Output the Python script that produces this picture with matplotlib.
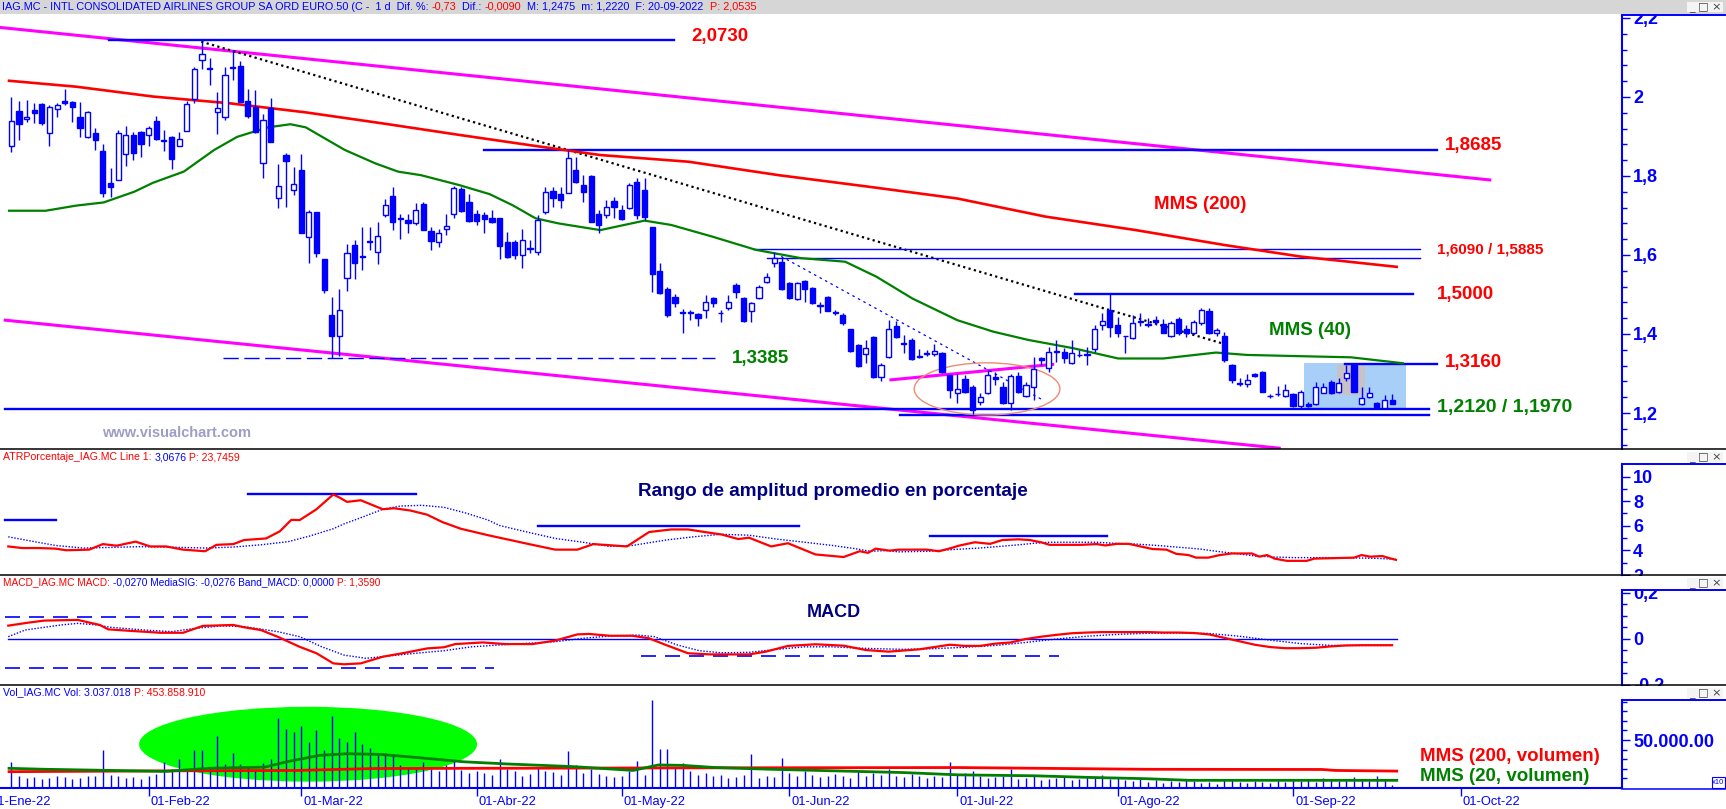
"""
plot.py
=======
Redraws a Visual Chart screen of IAG.MC (daily, Jan-Sep 2022): candlesticks
with moving averages, channel and trend lines, plus ATR %, MACD and volume
panels underneath.

Usage:
    python plot.py
"""

import numpy as np
import matplotlib
matplotlib.use("Agg")
import matplotlib.pyplot as plt
from matplotlib.patches import Ellipse, Rectangle

# ---------------------------------------------------------------------------
# Canvas and colours
# ---------------------------------------------------------------------------
W, H, DPI = 1726, 809, 100
AXIS_X = 1622                      # pixel column of the right price scale
XLIM = (1.515, 214.13)             # sessions, 0 = 03-Jan-2022
BLUE, RED, GREEN, NAVY = "#0000ff", "#ff0000", "#008000", "#000080"
MAGENTA = "#ff00ff"

plt.rcParams["font.family"] = ["Liberation Sans", "DejaVu Sans"]

# ---------------------------------------------------------------------------
# Data (one value per session, first session = index 3, 06-Jan-2022)
# ---------------------------------------------------------------------------
FIRST_SESSION = 3

opens = [
    1.877, 1.964, 1.943, 1.968, 1.981, 1.910, 1.969, 1.990, 1.987, 1.949,
    1.898, 1.910, 1.862, 1.781, 1.790, 1.856, 1.903, 1.912, 1.903, 1.938,
    1.891, 1.899, 1.877, 1.913, 1.994, 2.093, 2.073, 1.961, 1.950, 2.073,
    2.078, 1.990, 1.975, 1.832, 1.973, 1.743, 1.853, 1.764, 1.815, 1.646,
    1.708, 1.591, 1.448, 1.395, 1.543, 1.625, 1.597, 1.632, 1.607, 1.701,
    1.750, 1.693, 1.688, 1.680, 1.729, 1.661, 1.634, 1.665, 1.705, 1.767,
    1.733, 1.704, 1.702, 1.694, 1.693, 1.634, 1.634, 1.600, 1.618, 1.607,
    1.708, 1.763, 1.754, 1.756, 1.815, 1.777, 1.800, 1.704, 1.701, 1.737,
    1.714, 1.718, 1.786, 1.765, 1.670, 1.560, 1.513, 1.494, 1.455, 1.452,
    1.451, 1.462, 1.490, 1.454, 1.465, 1.524, 1.490, 1.457, 1.490, 1.531,
    1.579, 1.583, 1.528, 1.488, 1.534, 1.516, 1.473, 1.494, 1.455, 1.448,
    1.413, 1.372, 1.349, 1.392, 1.292, 1.343, 1.419, 1.376, 1.385, 1.344,
    1.352, 1.349, 1.353, 1.295, 1.250, 1.285, 1.265, 1.229, 1.251, 1.290,
    1.265, 1.225, 1.294, 1.243, 1.265, 1.338, 1.313, 1.356, 1.355, 1.327,
    1.348, 1.347, 1.361, 1.423, 1.462, 1.423, 1.396, 1.389, 1.431, 1.426,
    1.435, 1.425, 1.395, 1.437, 1.412, 1.402, 1.427, 1.458, 1.402, 1.395,
    1.322, 1.275, 1.273, 1.299, 1.305, 1.243, 1.248, 1.244, 1.248, 1.218,
    1.224, 1.224, 1.251, 1.279, 1.254, 1.288, 1.322, 1.224, 1.241, 1.226,
    1.212, 1.232,
]
highs = [
    1.999, 1.990, 1.992, 1.984, 1.985, 1.979, 1.985, 2.019, 1.990, 1.988,
    1.964, 1.921, 1.882, 1.819, 1.916, 1.927, 1.912, 1.915, 1.926, 1.952,
    1.916, 1.900, 1.912, 1.990, 2.077, 2.140, 2.098, 2.013, 2.077, 2.120,
    2.091, 2.020, 2.017, 1.958, 1.997, 1.830, 1.857, 1.823, 1.855, 1.714,
    1.709, 1.591, 1.493, 1.513, 1.628, 1.638, 1.670, 1.670, 1.683, 1.741,
    1.773, 1.703, 1.703, 1.731, 1.733, 1.671, 1.667, 1.704, 1.775, 1.773,
    1.754, 1.715, 1.709, 1.715, 1.693, 1.659, 1.638, 1.665, 1.638, 1.701,
    1.773, 1.773, 1.773, 1.866, 1.849, 1.802, 1.802, 1.714, 1.739, 1.748,
    1.727, 1.781, 1.795, 1.794, 1.672, 1.579, 1.520, 1.500, 1.464, 1.461,
    1.452, 1.498, 1.494, 1.462, 1.498, 1.528, 1.494, 1.482, 1.524, 1.555,
    1.608, 1.596, 1.532, 1.532, 1.537, 1.520, 1.482, 1.496, 1.462, 1.452,
    1.413, 1.374, 1.385, 1.394, 1.326, 1.435, 1.434, 1.397, 1.389, 1.361,
    1.360, 1.375, 1.355, 1.296, 1.299, 1.296, 1.271, 1.250, 1.309, 1.305,
    1.279, 1.298, 1.305, 1.279, 1.343, 1.341, 1.368, 1.385, 1.364, 1.385,
    1.360, 1.368, 1.423, 1.452, 1.501, 1.444, 1.396, 1.448, 1.452, 1.440,
    1.445, 1.437, 1.434, 1.444, 1.423, 1.436, 1.465, 1.465, 1.414, 1.406,
    1.324, 1.288, 1.300, 1.302, 1.307, 1.248, 1.268, 1.273, 1.250, 1.258,
    1.229, 1.279, 1.277, 1.283, 1.288, 1.322, 1.324, 1.267, 1.265, 1.229,
    1.245, 1.2475,
]
lows = [
    1.861, 1.891, 1.936, 1.933, 1.930, 1.877, 1.950, 1.979, 1.937, 1.899,
    1.895, 1.866, 1.746, 1.746, 1.790, 1.826, 1.840, 1.847, 1.877, 1.890,
    1.863, 1.817, 1.877, 1.913, 1.984, 2.070, 2.030, 1.905, 1.942, 2.043,
    1.988, 1.948, 1.908, 1.796, 1.887, 1.720, 1.722, 1.752, 1.655, 1.579,
    1.596, 1.505, 1.340, 1.345, 1.509, 1.538, 1.562, 1.613, 1.577, 1.695,
    1.663, 1.640, 1.656, 1.677, 1.663, 1.613, 1.619, 1.650, 1.693, 1.709,
    1.684, 1.676, 1.656, 1.680, 1.591, 1.593, 1.591, 1.566, 1.604, 1.600,
    1.705, 1.722, 1.718, 1.756, 1.781, 1.735, 1.684, 1.655, 1.693, 1.693,
    1.689, 1.716, 1.690, 1.689, 1.507, 1.500, 1.443, 1.468, 1.403, 1.435,
    1.419, 1.441, 1.469, 1.431, 1.462, 1.490, 1.431, 1.431, 1.488, 1.528,
    1.569, 1.512, 1.488, 1.486, 1.482, 1.477, 1.454, 1.457, 1.448, 1.424,
    1.355, 1.317, 1.326, 1.289, 1.282, 1.340, 1.389, 1.353, 1.334, 1.339,
    1.345, 1.344, 1.302, 1.237, 1.225, 1.250, 1.197, 1.220, 1.249, 1.271,
    1.222, 1.208, 1.250, 1.241, 1.233, 1.322, 1.305, 1.330, 1.326, 1.325,
    1.343, 1.321, 1.355, 1.410, 1.392, 1.392, 1.351, 1.387, 1.420, 1.418,
    1.423, 1.402, 1.392, 1.398, 1.392, 1.400, 1.423, 1.400, 1.395, 1.330,
    1.275, 1.268, 1.267, 1.292, 1.254, 1.237, 1.243, 1.241, 1.216, 1.212,
    1.216, 1.220, 1.250, 1.248, 1.250, 1.282, 1.254, 1.220, 1.237, 1.214,
    1.209, 1.222,
]
closes = [
    1.940, 1.931, 1.950, 1.960, 1.935, 1.974, 1.979, 1.985, 1.975, 1.921,
    1.961, 1.890, 1.758, 1.771, 1.910, 1.904, 1.857, 1.882, 1.922, 1.893,
    1.889, 1.842, 1.894, 1.981, 2.072, 2.110, 2.070, 1.973, 2.055, 2.077,
    1.988, 1.953, 1.912, 1.942, 1.887, 1.774, 1.839, 1.779, 1.655, 1.708,
    1.604, 1.511, 1.395, 1.462, 1.604, 1.579, 1.595, 1.635, 1.649, 1.726,
    1.683, 1.691, 1.682, 1.713, 1.663, 1.636, 1.655, 1.674, 1.769, 1.712,
    1.686, 1.687, 1.690, 1.683, 1.623, 1.594, 1.600, 1.639, 1.616, 1.688,
    1.760, 1.743, 1.739, 1.845, 1.786, 1.760, 1.684, 1.676, 1.722, 1.722,
    1.691, 1.777, 1.700, 1.697, 1.553, 1.505, 1.448, 1.479, 1.452, 1.455,
    1.441, 1.482, 1.479, 1.452, 1.482, 1.507, 1.433, 1.478, 1.520, 1.545,
    1.593, 1.514, 1.490, 1.530, 1.513, 1.479, 1.472, 1.459, 1.453, 1.427,
    1.357, 1.319, 1.364, 1.292, 1.322, 1.412, 1.392, 1.374, 1.336, 1.343,
    1.350, 1.357, 1.305, 1.258, 1.262, 1.254, 1.208, 1.241, 1.296, 1.287,
    1.225, 1.294, 1.254, 1.271, 1.311, 1.334, 1.355, 1.354, 1.338, 1.353,
    1.346, 1.350, 1.412, 1.433, 1.417, 1.403, 1.394, 1.427, 1.433, 1.424,
    1.431, 1.403, 1.427, 1.402, 1.402, 1.431, 1.462, 1.402, 1.410, 1.333,
    1.284, 1.273, 1.284, 1.294, 1.254, 1.242, 1.247, 1.257, 1.218, 1.254,
    1.218, 1.267, 1.265, 1.251, 1.277, 1.302, 1.254, 1.237, 1.250, 1.216,
    1.234, 1.2235,
]
volumes = [
    # Jan
    27000, 12000, 10000, 11000, 9000, 10000, 12000, 11000, 9000, 10000,
    13000, 12000, 40000, 14000, 12000, 10000, 11000, 9000,
    # Feb
    12000, 15000, 27000, 20000, 30000, 18000, 40000, 40000, 22000, 54000,
    25000, 36000, 25000, 22000, 18000, 26000, 30000, 73000, 61000, 58000,
    # Mar
    65000, 48000, 60000, 40000, 75000, 52000, 48000, 58000, 46000, 42000,
    36000, 36000, 33000, 24000, 22000, 20000, 27000, 20000, 18000, 24000,
    28000, 19000, 16000,
    # Apr
    18000, 16000, 14000, 30000, 20000, 18000, 12000, 15000, 22000, 18000,
    17000, 14000, 39000, 24000, 16000, 20000, 15000, 12000, 11000,
    # May
    12000, 18000, 28000, 14000, 92000, 41000, 41000, 22000, 26000, 18000,
    14000, 16000, 12000, 14000, 10000, 11000, 14000, 35000, 10000, 13000,
    11000, 31000,
    # Jun
    16000, 12000, 18000, 14000, 11000, 13000, 15000, 12000, 10000, 18000,
    13000, 16000, 14000, 20000, 12000, 11000, 15000, 13000, 10000, 12000,
    11000, 27000,
    # Jul
    14000, 16000, 18000, 12000, 10000, 11000, 13000, 20000, 9000, 10000,
    12000, 8000, 9000, 10000, 11000, 8000, 9000, 12000, 10000, 14000, 9000,
    # Aug
    10000, 8000, 7000, 9000, 6000, 8000, 5000, 7000, 6000, 9000, 7000, 5000,
    6000, 4000, 9000, 8000, 6000, 5000, 7000, 6000, 5000, 8000, 6000,
    # Sep
    9000, 7000, 8000, 6000, 10000, 8000, 7000, 9000, 11000, 8000, 7000,
    12000, 9000, 3000,
]

# Indicator lines (session index, value)
ma200_x = [2.7, 11.5, 21.6, 31.6, 41.6, 51.7, 61.7, 71.7, 80.2, 91.8,
           103.6, 115.3, 127, 138.6, 150.4, 162.1, 172, 184.6]
ma200_y = [2.041, 2.026, 2.001, 1.984, 1.961, 1.933, 1.904, 1.876, 1.853, 1.836,
           1.802, 1.773, 1.743, 1.697, 1.663, 1.625, 1.596, 1.570]

ma40_x = [2.7, 7.5, 11.5, 15.1, 19.1, 21.6, 25.6, 29.6, 32.6, 36.6,
          39.6, 41.6, 46.7, 50.7, 53.7, 56.7, 61.7, 65.7, 68.7, 71.7,
          74.7, 80.2, 86, 89.5, 94.8, 100.6, 106.5, 112.3, 116.4, 121.1,
          127, 131.7, 136.3, 142.2, 148.1, 154, 160.9, 165, 171.6, 178.6, 185.4]
ma40_y = [1.712, 1.712, 1.725, 1.733, 1.760, 1.783, 1.811, 1.866, 1.899, 1.923,
          1.931, 1.923, 1.866, 1.832, 1.811, 1.802, 1.777, 1.754, 1.726, 1.693,
          1.680, 1.663, 1.687, 1.676, 1.647, 1.613, 1.592, 1.583, 1.545, 1.490,
          1.435, 1.406, 1.385, 1.364, 1.338, 1.338, 1.353, 1.347, 1.344, 1.341, 1.326]

atr_x = [2.6, 4.4, 6.6, 8.8, 10.2, 13.2, 15.0, 16.8, 19.3, 21.2,
         23.3, 25.5, 28.4, 29.9, 32.1, 33.5, 36.4, 38.2, 39.7, 40.8,
         43.0, 45.2, 45.9, 47.0, 48.8, 51.7, 53.2, 55.3, 57.5, 59.5,
         61.9, 65.5, 68.4, 71.3, 74.3, 77.2, 79.3, 83.7, 86.6, 89.5,
         91.7, 93.9, 96.1, 98.3, 99.7, 102.6, 104.8, 108.4, 112.1, 114.2,
         115.3, 116.3, 118.1, 119.4, 123.0, 124.6, 126.2, 127.2, 129.3, 131.3,
         132.9, 135.0, 136.5, 138.1, 139.1, 143.2, 145.3, 146.4, 147.9, 149.5,
         151.0, 152.6, 154.4, 155.7, 157.3, 158.3, 159.9, 161.4, 163.0, 165.6,
         166.6, 167.6, 168.6, 170.2, 172.8, 173.8, 179.0, 180.0, 181.1, 182.7,
         183.7, 184.5]
atr_y = [4.32, 4.19, 4.19, 4.14, 4.01, 4.06, 4.51, 4.38, 4.71, 4.32,
         4.32, 4.06, 3.93, 4.45, 4.51, 4.84, 4.97, 5.55, 6.48, 6.46,
         7.34, 8.54, 8.33, 7.94, 8.07, 7.34, 7.42, 7.24, 6.90, 6.30,
         5.76, 5.23, 4.84, 4.45, 4.06, 4.06, 4.51, 4.32, 5.49, 5.70,
         5.70, 5.49, 5.29, 4.92, 5.03, 4.32, 4.58, 3.67, 3.46, 3.93,
         3.80, 4.14, 3.98, 4.06, 4.06, 3.93, 4.19, 4.38, 4.66, 4.53,
         4.84, 4.90, 4.84, 4.64, 4.45, 4.45, 4.51, 4.40, 4.53, 4.53,
         4.32, 4.11, 4.06, 3.72, 3.62, 3.41, 3.41, 3.62, 3.75, 3.75,
         3.49, 3.62, 3.33, 3.15, 3.15, 3.33, 3.41, 3.62, 3.49, 3.54,
         3.36, 3.23]

atr_sig_x = [2.6, 6.0, 8.8, 12.4, 16.0, 19.7, 23.3, 28.4, 32.1, 35.7,
             39.3, 42.2, 45.2, 46.6, 48.8, 51.7, 54.0, 56.8, 59.7, 62.6,
             65.5, 67.0, 70.6, 74.3, 77.9, 81.5, 84.4, 88.8, 92.4, 96.1,
             99.7, 103.3, 107.0, 110.6, 113.6, 115.6, 117.7, 119.4, 123.2, 126.2,
             129.9, 132.5, 135.0, 137.1, 139.1, 141.7, 145.3, 147.4, 150.5, 153.6,
             155.7, 158.8, 160.9, 163.4, 166.1, 168.6, 171.2, 176.5, 181.6, 184.5]
atr_sig_y = [5.10, 4.71, 4.40, 4.19, 4.24, 4.30, 4.27, 4.19, 4.27, 4.45,
             4.71, 5.18, 5.76, 6.15, 6.65, 7.34, 7.60, 7.66, 7.50, 7.03,
             6.46, 6.02, 5.49, 4.97, 4.66, 4.32, 4.40, 4.84, 5.10, 5.31,
             5.23, 4.92, 4.66, 4.40, 4.14, 3.93, 3.98, 3.88, 3.93, 4.06,
             4.19, 4.32, 4.45, 4.58, 4.66, 4.66, 4.66, 4.58, 4.51, 4.38,
             4.27, 4.11, 3.93, 3.75, 3.54, 3.46, 3.41, 3.41, 3.36, 3.28]

macd_x = [2.6, 5.2, 7.3, 11.7, 14.6, 15.7, 18.3, 22.6, 25.5, 28.1,
          32.1, 33.5, 35.7, 37.9, 40.8, 43.0, 45.2, 46.6, 48.8, 51.7,
          54.6, 57.5, 59.7, 61.2, 64.8, 67.7, 71.3, 74.3, 77.2, 78.7,
          81.5, 84.4, 86.6, 88.8, 91.7, 94.6, 99.7, 101.9, 104.8, 108.4,
          112.1, 115.0, 118, 120, 122, 124, 126, 128, 130, 132,
          134, 136, 138, 140, 142, 144, 146, 148, 150, 152,
          154, 156, 158, 160, 162, 164, 166, 168, 170, 172,
          174, 176, 178, 180, 182, 184]
macd_y = [0.058, 0.071, 0.080, 0.083, 0.061, 0.042, 0.036, 0.027, 0.027, 0.057,
          0.061, 0.051, 0.039, 0.010, -0.034, -0.062, -0.106, -0.110, -0.106, -0.077,
          -0.060, -0.041, -0.036, -0.022, -0.015, -0.022, -0.022, -0.007, 0.020, 0.022,
          0.014, 0.014, 0.003, -0.026, -0.062, -0.067, -0.067, -0.055, -0.030, -0.023,
          -0.029, -0.048, -0.055, -0.050, -0.045, -0.035, -0.025, -0.030, -0.030, -0.020,
          -0.015, 0.000, 0.010, 0.018, 0.025, 0.028, 0.030, 0.030, 0.030, 0.030,
          0.028, 0.028, 0.026, 0.020, 0.005, -0.010, -0.025, -0.035, -0.040, -0.040,
          -0.038, -0.032, -0.028, -0.027, -0.027, -0.027]

macd_sig_x = [2.6, 4.8, 9.5, 11.7, 14.2, 16.0, 20.4, 24.0, 27.0, 30.6, 33.5,
              37.9, 40.8, 43.7, 46.6, 49.5, 52.4, 56.0, 59.7, 63.3, 67.0,
              70.6, 74.3, 77.9, 81.5, 85.2, 87.3, 90.3, 93.2, 96.1, 99.7,
              103.3, 107.0, 110.6, 113.6, 116, 120, 124, 128, 132, 136,
              140, 144, 148, 152, 156, 160, 164, 168, 172, 176,
              180, 184]
macd_sig_y = [0.010, 0.039, 0.061, 0.068, 0.061, 0.051, 0.039, 0.032, 0.046, 0.057, 0.054,
              0.032, 0.010, -0.034, -0.070, -0.084, -0.074, -0.062, -0.051, -0.034, -0.026,
              -0.019, -0.012, 0.003, 0.013, 0.017, 0.010, -0.026, -0.051, -0.060, -0.058,
              -0.045, -0.034, -0.034, -0.039, -0.042, -0.045, -0.042, -0.036, -0.028, -0.015,
              0.000, 0.012, 0.020, 0.025, 0.026, 0.024, 0.012, -0.005, -0.020, -0.028,
              -0.028, -0.028]

vol_ma200_x = [2.7, 24.6, 40.5, 50.6, 93.9, 127.1, 151.7, 174.8, 176.5, 184.6]
vol_ma200_y = [17000, 17900, 18300, 20300, 21000, 21300, 19500, 19300, 18300, 17600]
vol_ma20_x = [2.7, 7.4, 16, 23.2, 29, 36.2, 39.1, 43.4, 47, 51.4,
              56.4, 62.3, 68.1, 76.6, 84.5, 87.8, 91, 95.3, 102.6, 111.2,
              119.9, 127.1, 137.2, 144.4, 151.7, 157.4, 184.6]
vol_ma20_y = [20500, 19500, 18300, 17300, 20600, 21700, 27300, 34000, 35700, 35000,
              31600, 27300, 25000, 22300, 18300, 24000, 23600, 21300, 19500, 17800,
              16100, 13700, 12700, 11000, 9700, 8000, 8000]

# Drawn support / resistance levels: (price, from session, to session)
price_levels = [(2.143, 15.8, 89.9), (1.866, 65.0, 189.9), (1.501, 142.4, 186.7),
                (1.323, 177.8, 189.9), (1.210, 2.2, 188.8), (1.196, 119.5, 188.8)]
price_levels_thin = [(1.614, 100.2, 187.6), (1.592, 102.0, 187.6)]
atr_levels = [(6.50, 2.2, 8.8), (8.54, 34.0, 56.0), (5.96, 72.1, 106.3), (5.18, 123.4, 146.6)]
macd_dashed = [(0.094, 2.2, 41.9), (-0.125, 2.2, 66.3), (-0.072, 85.5, 140.3)]

MONTH_SESSIONS = [0, 21, 41, 64, 83, 105, 127, 148, 171, 193]
MONTH_LABELS = ["01-Ene-22", "01-Feb-22", "01-Mar-22", "01-Abr-22", "01-May-22",
                "01-Jun-22", "01-Jul-22", "01-Ago-22", "01-Sep-22", "01-Oct-22"]


def panel(fig, top, bottom, ylim):
    """Axes spanning the chart width between two pixel rows (from the top)."""
    ax = fig.add_axes([0, 1 - bottom / H, AXIS_X / W, (bottom - top) / H])
    ax.set_xlim(*XLIM)
    ax.set_ylim(*ylim)
    for side in ("top", "left", "bottom"):
        ax.spines[side].set_visible(False)
    ax.spines["right"].set_color(BLUE)
    ax.spines["right"].set_linewidth(1.5)
    ax.yaxis.tick_right()
    ax.tick_params(axis="y", which="major", colors=BLUE, length=5.5, width=1.0, pad=2.5)
    ax.tick_params(axis="y", which="minor", colors=BLUE, length=3.5, width=1.0)
    ax.set_xticks([])
    return ax


def y_ticks(ax, major, labels, minor):
    ax.set_yticks(major, labels, fontsize=13, fontweight="bold", color=BLUE)
    ax.set_yticks(minor, minor=True)


def chain_text(ax, x, y, pieces, size=7.4):
    """Several coloured strings written one after the other."""
    t = ax.text(x, y, pieces[0][0], color=pieces[0][1], fontsize=size,
                ha="left", va="center")
    for s, col in pieces[1:]:
        t = ax.annotate(s, xy=(1, 0.5), xycoords=t, color=col, fontsize=size,
                        ha="left", va="center")


def main() -> None:
    fig = plt.figure(figsize=(W / DPI, H / DPI), dpi=DPI)
    fig.patch.set_facecolor("white")

    x = np.arange(FIRST_SESSION, FIRST_SESSION + len(closes))
    o, hi, lo, c = (np.array(v) for v in (opens, highs, lows, closes))
    up = c >= o

    # ---- Price panel ---------------------------------------------------------
    ax = panel(fig, 14, 449, (1.1089, 2.210))
    y_ticks(ax, [1.2, 1.4, 1.6, 1.8, 2.0, 2.2], ["1,2", "1,4", "1,6", "1,8", "2", "2,2"],
            np.arange(1.12, 2.21, 0.04))

    # trading box of September
    ax.add_patch(Rectangle((172.4, 1.210), 13.4, 0.117, facecolor="#a8cff8",
                           edgecolor="none", zorder=1))
    ax.add_patch(Rectangle((176.8, 1.246), 3.6, 0.076, facecolor="#c6c2c6",
                           edgecolor="none", zorder=1.1))

    ax.plot([1.5, 196.8], [2.176, 1.790], color=MAGENTA, lw=2.2, zorder=2)
    ax.plot([2.2, 169.2], [1.435, 1.111], color=MAGENTA, lw=2.2, zorder=2)
    ax.plot([118.3, 139.5], [1.284, 1.323], color=MAGENTA, lw=2.2, zorder=2)
    ax.plot([27.9, 161.6], [2.140, 1.377], color="black", lw=1.6, ls=(0, (1, 1.5)), zorder=2)
    ax.plot([103.2, 138.2], [1.604, 1.233], color=BLUE, lw=0.9, ls=(0, (2, 3)), zorder=2)

    for val, x0, x1 in price_levels:
        ax.plot([x0, x1], [val, val], color=BLUE, lw=1.7, zorder=2)
    for val, x0, x1 in price_levels_thin:
        ax.plot([x0, x1], [val, val], color=BLUE, lw=1.0, zorder=2)
    ax.plot([30.8, 95.3], [1.340, 1.340], color=BLUE, lw=1.0, ls=(0, (11, 4)), zorder=2)

    ax.add_patch(Ellipse((130.9, 1.261), 19.1, 0.132, facecolor="none",
                         edgecolor="#f08a70", lw=1.0, zorder=2))

    ax.plot(ma200_x, ma200_y, color=RED, lw=1.9, zorder=3)
    ax.plot(ma40_x, ma40_y, color=GREEN, lw=1.6, zorder=3)

    ax.vlines(x, lo, hi, color=BLUE, lw=1.0, zorder=4)
    ax.bar(x[up], np.maximum(c - o, 0.0015)[up], bottom=o[up], width=0.68,
           facecolor="white", edgecolor=BLUE, lw=1.0, zorder=5)
    ax.bar(x[~up], np.maximum(o - c, 0.0015)[~up], bottom=c[~up], width=0.68,
           facecolor=BLUE, edgecolor=BLUE, lw=1.0, zorder=5)

    big = dict(fontsize=13.5, fontweight="bold", va="center", ha="left", zorder=6)
    ax.text(92.1, 2.154, "2,0730", color=RED, **big)
    ax.text(190.9, 1.876, "1,8685", color=RED, **big)
    ax.text(152.8, 1.729, "MMS (200)", color=RED, **big)
    ax.text(189.9, 1.615, "1,6090 / 1,5885", color=RED, fontsize=11,
            fontweight="bold", va="center", ha="left")
    ax.text(189.9, 1.501, "1,5000", color=RED, **big)
    ax.text(167.9, 1.410, "MMS (40)", color=GREEN, **big)
    ax.text(97.5, 1.339, "1,3385", color=GREEN, **big)
    ax.text(190.9, 1.329, "1,3160", color=RED, **big)
    ax.text(189.9, 1.213, "1,2120 / 1,1970", color=GREEN, fontsize=14,
            fontweight="bold", va="center", ha="left")
    ax.text(24.6, 1.149, "www.visualchart.com", color="#9c9ec6", fontsize=10.5,
            fontweight="bold", ha="center", va="center")

    # ---- ATR % panel ---------------------------------------------------------
    ax = panel(fig, 464, 575, (2.344, 11.016))
    y_ticks(ax, [2, 4, 6, 8, 10], ["2", "4", "6", "8", "10"], np.arange(3, 11, 1))
    for val, x0, x1 in atr_levels:
        ax.plot([x0, x1], [val, val], color=BLUE, lw=1.7)
    ax.plot(atr_sig_x, atr_sig_y, color=BLUE, lw=1.0, ls=(0, (1, 1.2)))
    ax.plot(atr_x, atr_y, color=RED, lw=1.6)
    ax.text(110.7, 8.75, "Rango de amplitud promedio en porcentaje", color=NAVY,
            fontsize=13.6, fontweight="bold", ha="center", va="center")

    # ---- MACD panel ----------------------------------------------------------
    ax = panel(fig, 590, 685, (-0.2, 0.213))
    y_ticks(ax, [-0.2, 0.0, 0.2], ["-0,2", "0", "0,2"], np.arange(-0.15, 0.2, 0.05))
    ax.plot([2.6, 184.6], [0, 0], color=BLUE, lw=1.0)
    for val, x0, x1 in macd_dashed:
        ax.plot([x0, x1], [val, val], color=BLUE, lw=1.2, ls=(0, (9, 5.4)))
    ax.plot(macd_sig_x, macd_sig_y, color=BLUE, lw=1.0, ls=(0, (1, 1.2)))
    ax.plot(macd_x, macd_y, color=RED, lw=1.6)
    ax.text(110.8, 0.117, "MACD", color=NAVY, fontsize=13, fontweight="bold",
            ha="center", va="center")

    # ---- Volume panel --------------------------------------------------------
    ax = panel(fig, 700, 788, (0, 91670))
    y_ticks(ax, [50000], ["50.000.00"], np.arange(10000, 91000, 10000))
    ax.spines["bottom"].set_visible(True)
    ax.spines["bottom"].set_color(BLUE)
    ax.spines["bottom"].set_linewidth(1.5)
    ax.add_patch(Ellipse((41.9, 45600), 44.3, 78000, facecolor="#00ff00",
                         edgecolor="none", zorder=0))
    ax.vlines(x, 0, volumes, color=BLUE, lw=1.0, zorder=2)
    ax.plot(vol_ma200_x, vol_ma200_y, color=RED, lw=2.0, zorder=3)
    ax.plot(vol_ma20_x, vol_ma20_y, color=GREEN, lw=2.0, zorder=3)
    ax.text(187.6, 32300, "MMS (200, volumen)", color=RED, fontsize=13.5,
            fontweight="bold", ha="left", va="center", clip_on=False)
    ax.text(187.6, 11500, "MMS (20, volumen)", color=GREEN, fontsize=13.5,
            fontweight="bold", ha="left", va="center", clip_on=False)

    ax.set_xticks(MONTH_SESSIONS[1:])
    ax.set_xticklabels([])
    ax.tick_params(axis="x", direction="out", length=6, width=1.0, color=BLUE)
    for pos, lab in zip(MONTH_SESSIONS, MONTH_LABELS):
        ax.annotate(lab, xy=(pos, 0), xycoords=("data", "axes fraction"),
                    xytext=(1.5, -5.5), textcoords="offset points",
                    ha="left", va="top", fontsize=9.3, color=BLUE,
                    annotation_clip=False)

    # ---- Frame: title bar, separators, scale boxes ---------------------------
    ov = fig.add_axes([0, 0, 1, 1], zorder=10)
    ov.set_xlim(0, W)
    ov.set_ylim(H, 0)
    ov.axis("off")
    ov.patch.set_alpha(0)

    ov.add_patch(Rectangle((0, 0), W, 13.5, facecolor="#d6d6d6", edgecolor="none"))
    chain_text(ov, 2, 6.5, [
        ("IAG.MC - INTL CONSOLIDATED AIRLINES GROUP SA ORD EURO.50 (C -  1 d  Dif. %: ", BLUE),
        ("-0,73", RED), ("  Dif.: ", BLUE), ("-0,0090", RED),
        ("  M: 1,2475  m: 1,2220  F: 20-09-2022  ", BLUE), ("P: 2,0535", RED)], size=7.8)
    chain_text(ov, 3, 457, [("ATRPorcentaje_IAG.MC Line 1: ", RED), ("3,0676", BLUE),
                            (" P: 23,7459", RED)], size=7.6)
    chain_text(ov, 3, 582.5, [("MACD_IAG.MC MACD: ", RED),
                              ("-0,0270 MediaSIG: -0,0276 Band_MACD: 0,0000", BLUE),
                              (" P: 1,3590", RED)], size=7.3)
    chain_text(ov, 3, 692.5, [("Vol_IAG.MC Vol: 3.037.018 ", BLUE),
                              ("P: 453.858.910", RED)], size=7.6)

    # masks clipping the scale labels at the panel box tops
    for y0, y1 in ((575.5, 590), (685.5, 700)):
        ov.add_patch(Rectangle((AXIS_X + 1, y0), W - AXIS_X, y1 - y0,
                               facecolor="white", edgecolor="none"))

    for y in (449, 575, 685):
        ov.plot([0, W], [y, y], color="black", lw=1.1)
    for y in (15, 464, 590, 700):
        ov.plot([AXIS_X, W], [y, y], color=BLUE, lw=1.4)
    ov.plot([AXIS_X, W], [788.5, 788.5], color=BLUE, lw=1.1)

    for y in (6.5, 457, 582.5, 692.5):
        ov.add_patch(Rectangle((1687, y - 5), 36, 10, facecolor="#f4f4f4",
                               edgecolor="none"))
        ov.text(1705, y, "_ \u25a1 \u00d7", fontsize=8, color="#404040",
                ha="center", va="center", family="DejaVu Sans")

    ov.add_patch(Rectangle((1712, 777), 13, 11, facecolor="white", edgecolor=BLUE, lw=0.8))
    ov.text(1718.5, 782.5, "x10", fontsize=5.5, color=BLUE, ha="center", va="center")

    fig.savefig("out.png", dpi=DPI)
    plt.close(fig)
    print("[OK] out.png written")


if __name__ == "__main__":
    main()
